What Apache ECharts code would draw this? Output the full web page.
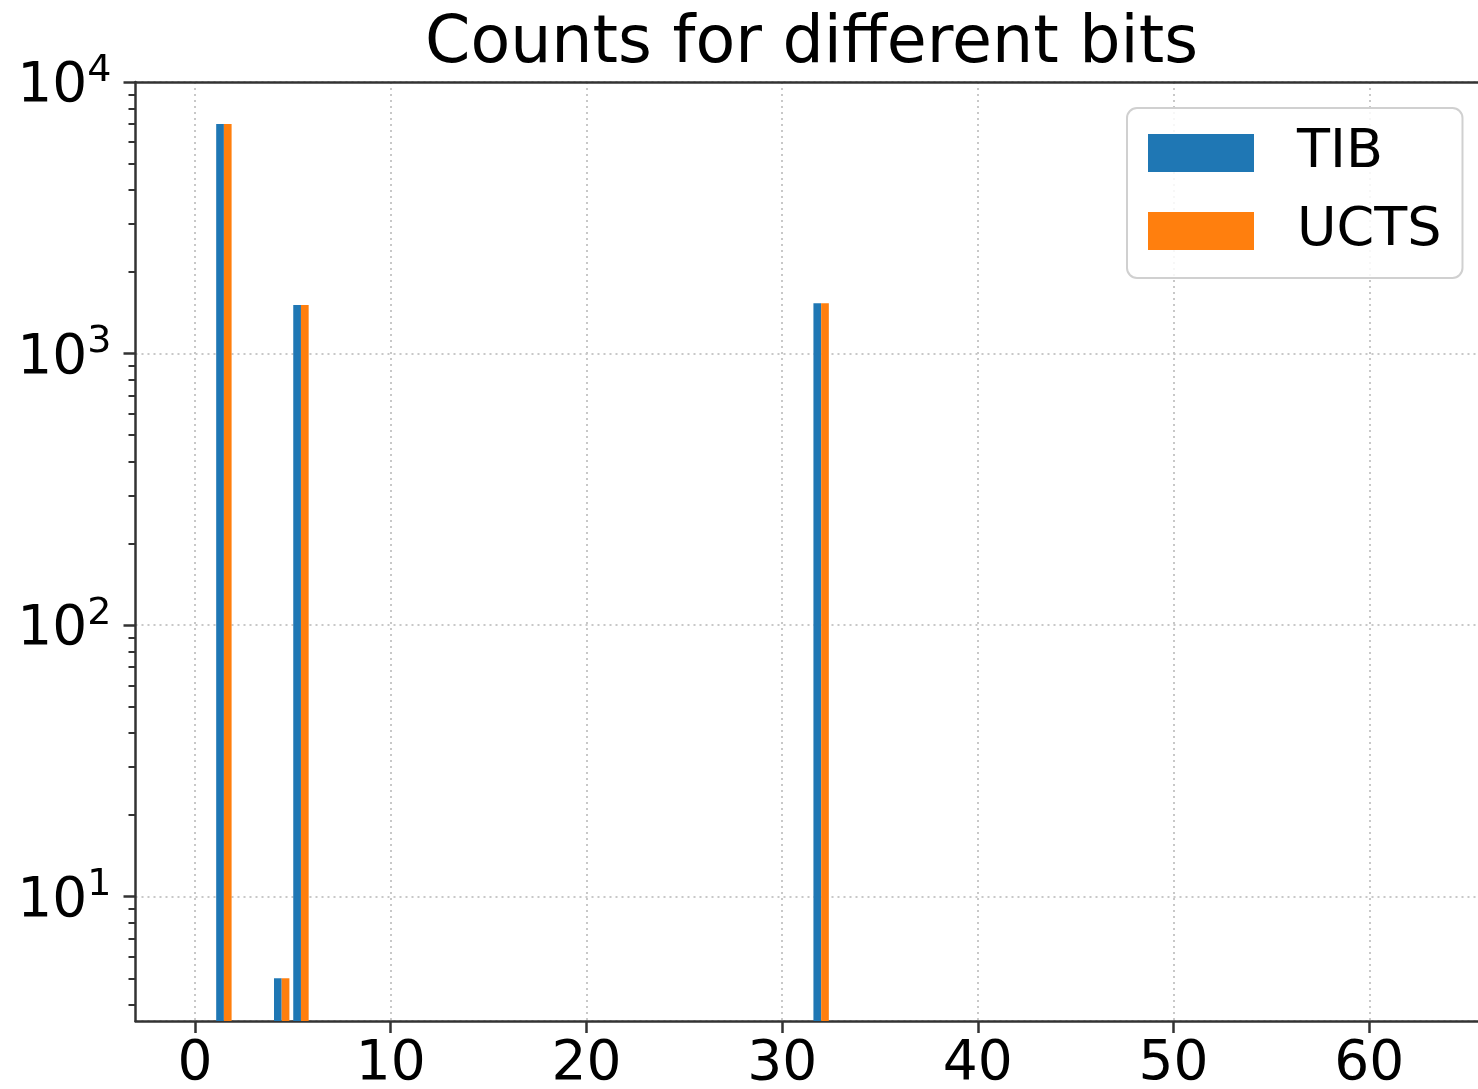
<!DOCTYPE html>
<html>
<head>
<meta charset="utf-8">
<script src="https://cdn.jsdelivr.net/npm/echarts@6/dist/echarts.min.js"></script>
<style>
  html, body { margin: 0; padding: 0; background: #ffffff; }
  #chart { width: 1478px; height: 1089px; }
</style>
</head>
<body>
<div id="chart"></div>
<script>
// ---- data (histogram of differing bits, 64 bins spanning bits 0..63) ----
const seriesNames = ['TIB', 'UCTS'];
const binIndex   = [1, 4, 5, 32];          // non-empty histogram bins
const tibCounts  = [7000, 5, 1510, 1530];
const uctsCounts = [7000, 5, 1510, 1530];
const xTickValues = [0, 10, 20, 30, 40, 50, 60];
const yMajorTickValues = [10, 100, 1000, 10000];
const yMinorTickValues = [4, 5, 6, 7, 8, 9,
  20, 30, 40, 50, 60, 70, 80, 90,
  200, 300, 400, 500, 600, 700, 800, 900,
  2000, 3000, 4000, 5000, 6000, 7000, 8000, 9000];

// histogram layout parameters (matplotlib style: 64 bins, rwidth 0.8, 2 datasets)
const BIN_COUNT = 64, BIT_MAX = 63;
const BIN_W = BIT_MAX / BIN_COUNT;
const BAR_W = BIN_W * 0.8 / 2;
const Y_MIN = 3.48, Y_MAX = 10000;
const X_MIN = -3.04, X_MAX = 66.04;

const FONT = 'DejaVu Sans';
const colors = ['#1f77b4', '#ff7f0e'];

const chart = echarts.init(document.getElementById('chart'), null, { renderer: 'canvas' });

function makeRender(seriesPos) {
  return function (params, api) {
    const bin = api.value(0);
    const cnt = api.value(1);
    const x0 = bin * BIN_W + BIN_W * 0.1 + seriesPos * BAR_W;
    const pTop = api.coord([x0, cnt]);
    const pBot = api.coord([x0 + BAR_W, Y_MIN]);
    return {
      type: 'rect',
      shape: { x: pTop[0], y: pTop[1], width: pBot[0] - pTop[0], height: pBot[1] - pTop[1] },
      style: { fill: api.visual('color') }
    };
  };
}

const axisColor = '#333333';
const gridLineStyle = { color: '#c8c8c8', width: 2, type: [2, 4] };

function logTickAxis(values, len, width) {
  return {
    type: 'value',
    min: Math.log10(Y_MIN),
    max: Math.log10(Y_MAX),
    position: 'left',
    axisLine: { show: false, onZero: false },
    axisTick: {
      show: true, length: len,
      customValues: values.map(v => Math.log10(v)),
      lineStyle: { color: axisColor, width: width }
    },
    axisLabel: { show: false },
    splitLine: { show: false }
  };
}

const option = {
  animation: false,
  backgroundColor: '#ffffff',
  title: {
    text: 'Counts for different bits',
    left: 811.5,
    textAlign: 'center',
    top: 13,
    padding: 0,
    textStyle: { fontFamily: FONT, fontSize: 65, fontWeight: 'normal', color: '#000', lineHeight: 65 }
  },
  legend: {
    orient: 'vertical',
    left: 1127,
    top: 108,
    padding: [18, 21, 20, 21],
    itemWidth: 106,
    itemHeight: 38,
    itemGap: 24,
    backgroundColor: 'rgba(255,255,255,0.85)',
    borderColor: '#d0d0d0',
    borderWidth: 2,
    borderRadius: 10,
    data: seriesNames.map(n => ({ name: n, icon: 'rect' })),
    textStyle: { fontFamily: FONT, fontSize: 54, color: '#000', padding: [0, 0, 0, 38] },
    z: 10
  },
  grid: {
    left: 135.5,
    top: 82,
    width: 1352,
    height: 939,
    outerBoundsMode: 'none',
    containLabel: false,
    show: false
  },
  xAxis: [
    {
      type: 'value',
      min: X_MIN,
      max: X_MAX,
      position: 'bottom',
      axisLine: { show: true, onZero: false, lineStyle: { color: axisColor, width: 2.5 } },
      axisTick: { show: true, length: 12, customValues: xTickValues, lineStyle: { color: axisColor, width: 2.5 } },
      axisLabel: {
        customValues: xTickValues,
        fontFamily: FONT, fontSize: 55, color: '#000', margin: 16, lineHeight: 55
      },
      splitLine: { show: true, lineStyle: gridLineStyle }
    },
    {
      type: 'value',
      min: X_MIN,
      max: X_MAX,
      position: 'top',
      axisLine: { show: true, onZero: false, lineStyle: { color: axisColor, width: 2.5 } },
      axisTick: { show: false },
      axisLabel: { show: false },
      splitLine: { show: false }
    }
  ],
  yAxis: [
    {
      type: 'log',
      logBase: 10,
      min: Y_MIN,
      max: Y_MAX,
      position: 'left',
      axisLine: { show: true, onZero: false, lineStyle: { color: axisColor, width: 2.5 } },
      axisTick: { show: false },
      axisLabel: {
        margin: 24,
        padding: [10, 0, 0, 0],
        formatter: function (v) {
          const l = Math.log10(v);
          const e = Math.round(l);
          if (Math.abs(l - e) > 1e-6) return '';
          return '{b|10}{s|' + e + '}';
        },
        rich: {
          b: { fontFamily: FONT, fontSize: 55, color: '#000', lineHeight: 70 },
          s: { fontFamily: FONT, fontSize: 38, color: '#000', lineHeight: 38, verticalAlign: 'top' }
        }
      },
      splitLine: { show: true, lineStyle: gridLineStyle }
    },
    logTickAxis(yMajorTickValues, 12, 2.5),
    logTickAxis(yMinorTickValues, 7, 2)
  ],
  series: [
    {
      name: seriesNames[0],
      type: 'custom',
      xAxisIndex: 0, yAxisIndex: 0,
      clip: true,
      itemStyle: { color: colors[0] },
      encode: { x: 0, y: 1 },
      renderItem: makeRender(0),
      data: binIndex.map((b, i) => [b, tibCounts[i]]),
      z: 3
    },
    {
      name: seriesNames[1],
      type: 'custom',
      xAxisIndex: 0, yAxisIndex: 0,
      clip: true,
      itemStyle: { color: colors[1] },
      encode: { x: 0, y: 1 },
      renderItem: makeRender(1),
      data: binIndex.map((b, i) => [b, uctsCounts[i]]),
      z: 3
    }
  ]
};

chart.setOption(option);
</script>
</body>
</html>
